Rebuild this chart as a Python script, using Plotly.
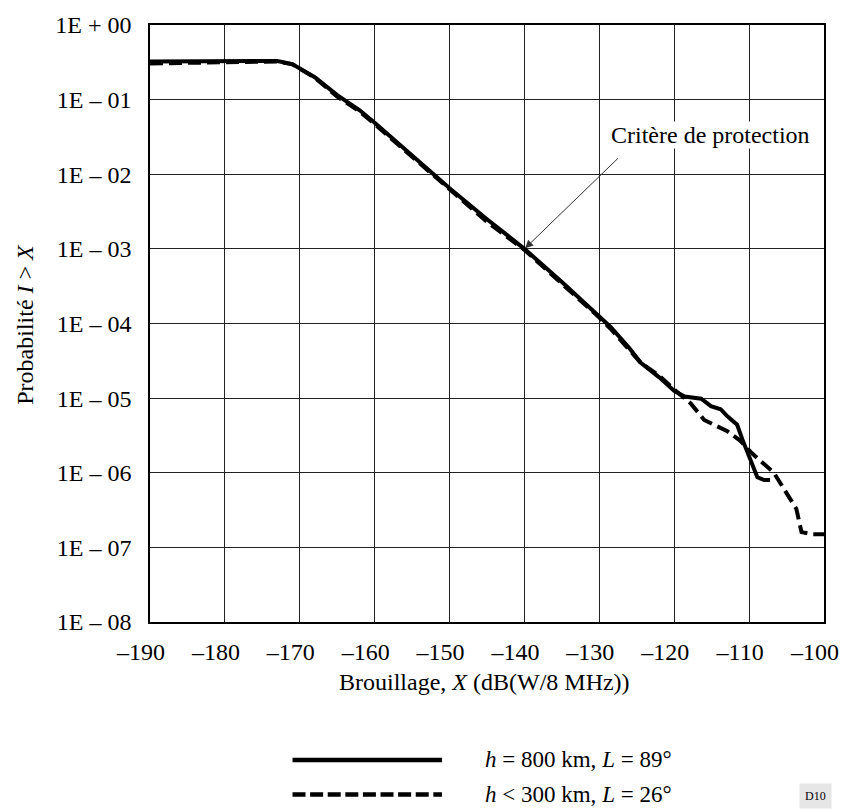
import plotly.graph_objects as go

# ---------------- data ----------------
x_solid = [-190, -180, -175, -173, -171, -170, -168, -165, -162, -160, -155, -150, -145,
           -140, -135, -130, -128.5, -126, -124.5, -122, -120, -118.6, -116.4, -115.1,
           -113.8, -112.9, -111.6, -110.9, -109.8, -108.9, -108, -107.2]
p_solid = [0.325, 0.33, 0.335, 0.33, 0.30, 0.265, 0.20, 0.115, 0.072, 0.049, 0.018, 0.0065,
           0.0025, 0.001, 3.6e-4, 1.25e-4, 9.0e-5, 4.7e-5, 3.0e-5, 1.9e-5, 1.25e-5, 1.05e-5,
           9.8e-6, 7.8e-6, 7.1e-6, 5.7e-6, 4.4e-6, 2.8e-6, 1.5e-6, 8.7e-7, 8.0e-7, 8.0e-7]

x_dash = [-190, -185, -180, -175, -173, -171, -170, -168, -165, -162, -160, -155, -150,
          -145, -140, -135, -130, -128.5, -126, -124.5, -122, -120, -117.8, -116, -112.9,
          -111.2, -109.8, -106.7, -103.7, -103, -101.5, -100]
p_dash = [0.305, 0.31, 0.318, 0.33, 0.325, 0.297, 0.262, 0.197, 0.11, 0.069, 0.047, 0.017,
          0.0062, 0.0023, 0.00097, 3.45e-4, 1.2e-4, 8.5e-5, 4.5e-5, 3.0e-5, 2.0e-5, 1.3e-5,
          8.5e-6, 5.1e-6, 3.6e-6, 2.7e-6, 1.9e-6, 1.0e-6, 3.3e-7, 1.6e-7, 1.5e-7, 1.5e-7]

x_ticks = [-190, -180, -170, -160, -150, -140, -130, -120, -110, -100]
x_ticktext = ["–190", "–180", "–170", "–160", "–150", "–140", "–130", "–120", "–110", "–100"]
y_ticks = [1, 1e-1, 1e-2, 1e-3, 1e-4, 1e-5, 1e-6, 1e-7, 1e-8]
y_ticktext = ["1E + 00", "1E – 01", "1E – 02", "1E – 03", "1E – 04",
              "1E – 05", "1E – 06", "1E – 07", "1E – 08"]

name_solid = "<i>h</i> = 800 km, <i>L</i> = 89°"
name_dash = "<i>h</i> < 300 km, <i>L</i> = 26°"
x_title = "Brouillage, <i>X</i> (dB(W/8 MHz))"
y_title = "Probabilité <i>I</i> > <i>X</i>"
crit_label = "Critère de protection"
crit_x, crit_y = -140, 1e-3

# ---------------- layout geometry ----------------
W, H = 851, 811
ML, MR, MT, MB = 150, 20, 16, 189
PW, PH = W - ML - MR, H - MT - MB
FONT = "Liberation Serif, Times New Roman, serif"
FS = 24


def fx(px):
    return (px - ML) / PW


def fy(py):
    return 1 - (py - MT) / PH


fig = go.Figure()
fig.add_trace(go.Scatter(x=x_solid, y=p_solid, mode="lines", name=name_solid,
                         line=dict(color="black", width=4), showlegend=False))
fig.add_trace(go.Scatter(x=x_dash, y=p_dash, mode="lines", name=name_dash,
                         line=dict(color="black", width=4, dash="13px,6px"), showlegend=False))

grid_col = "#222"
fig.update_layout(
    width=W, height=H,
    margin=dict(l=ML, r=MR, t=MT, b=MB),
    paper_bgcolor="white", plot_bgcolor="white",
    font=dict(family=FONT, size=FS, color="black"),
    xaxis=dict(range=[-190, -100], tickvals=x_ticks, ticktext=x_ticktext,
               showgrid=True, gridcolor=grid_col, gridwidth=1, zeroline=False,
               showline=True, linecolor="black", linewidth=1.5, mirror=True,
               ticks="outside", ticklen=7, tickcolor="rgba(0,0,0,0)",
               ticklabelshift=-9, tickfont=dict(size=FS)),
    yaxis=dict(type="log", range=[-8, 0], tickvals=y_ticks, ticktext=y_ticktext,
               showgrid=True, gridcolor=grid_col, gridwidth=1,
               zeroline=False, showline=True, linecolor="black", linewidth=1.5, mirror=True,
               ticks="outside", ticklen=12, tickcolor="rgba(0,0,0,0)", tickfont=dict(size=FS)),
)

ann = []
# axis titles
ann.append(dict(text=x_title, xref="paper", yref="paper", x=fx(488), y=fy(683),
                showarrow=False, xanchor="center", yanchor="middle", font=dict(size=FS)))
ann.append(dict(text=y_title, xref="paper", yref="paper", x=fx(24), y=fy(320),
                showarrow=False, textangle=-90, xanchor="center", yanchor="middle",
                font=dict(size=FS)))
# protection criterion
ann.append(dict(text="", x=crit_x, y=-3, xref="x", yref="y", showarrow=True,
                ax=95, ay=-92, arrowhead=2, arrowsize=1.6, arrowwidth=1, arrowcolor="#333",
                standoff=1))
ann.append(dict(text=crit_label, xref="paper", yref="paper", x=fx(716), y=fy(128),
                showarrow=False, xanchor="center", yanchor="middle", bgcolor="white",
                borderpad=0, font=dict(size=FS)))
# legend
ann.append(dict(text=name_solid, xref="paper", yref="paper", x=fx(486), y=fy(762),
                showarrow=False, xanchor="left", yanchor="middle", font=dict(size=23)))
ann.append(dict(text=name_dash, xref="paper", yref="paper", x=fx(486), y=fy(797),
                showarrow=False, xanchor="left", yanchor="middle", font=dict(size=23)))
ann.append(dict(text="D10", xref="paper", yref="paper", x=fx(822), y=fy(799),
                showarrow=False, xanchor="center", yanchor="middle", bgcolor="#e6e6e6",
                borderpad=5, font=dict(size=12)))
fig.update_layout(annotations=ann)

fig.add_shape(type="line", xref="paper", yref="paper", x0=fx(294), x1=fx(445),
              y0=fy(762), y1=fy(762), line=dict(color="black", width=4.5))
fig.add_shape(type="line", xref="paper", yref="paper", x0=fx(294), x1=fx(445),
              y0=fy(797), y1=fy(797), line=dict(color="black", width=4.5, dash="13px,4.6px"))

fig.write_html("out.html")
